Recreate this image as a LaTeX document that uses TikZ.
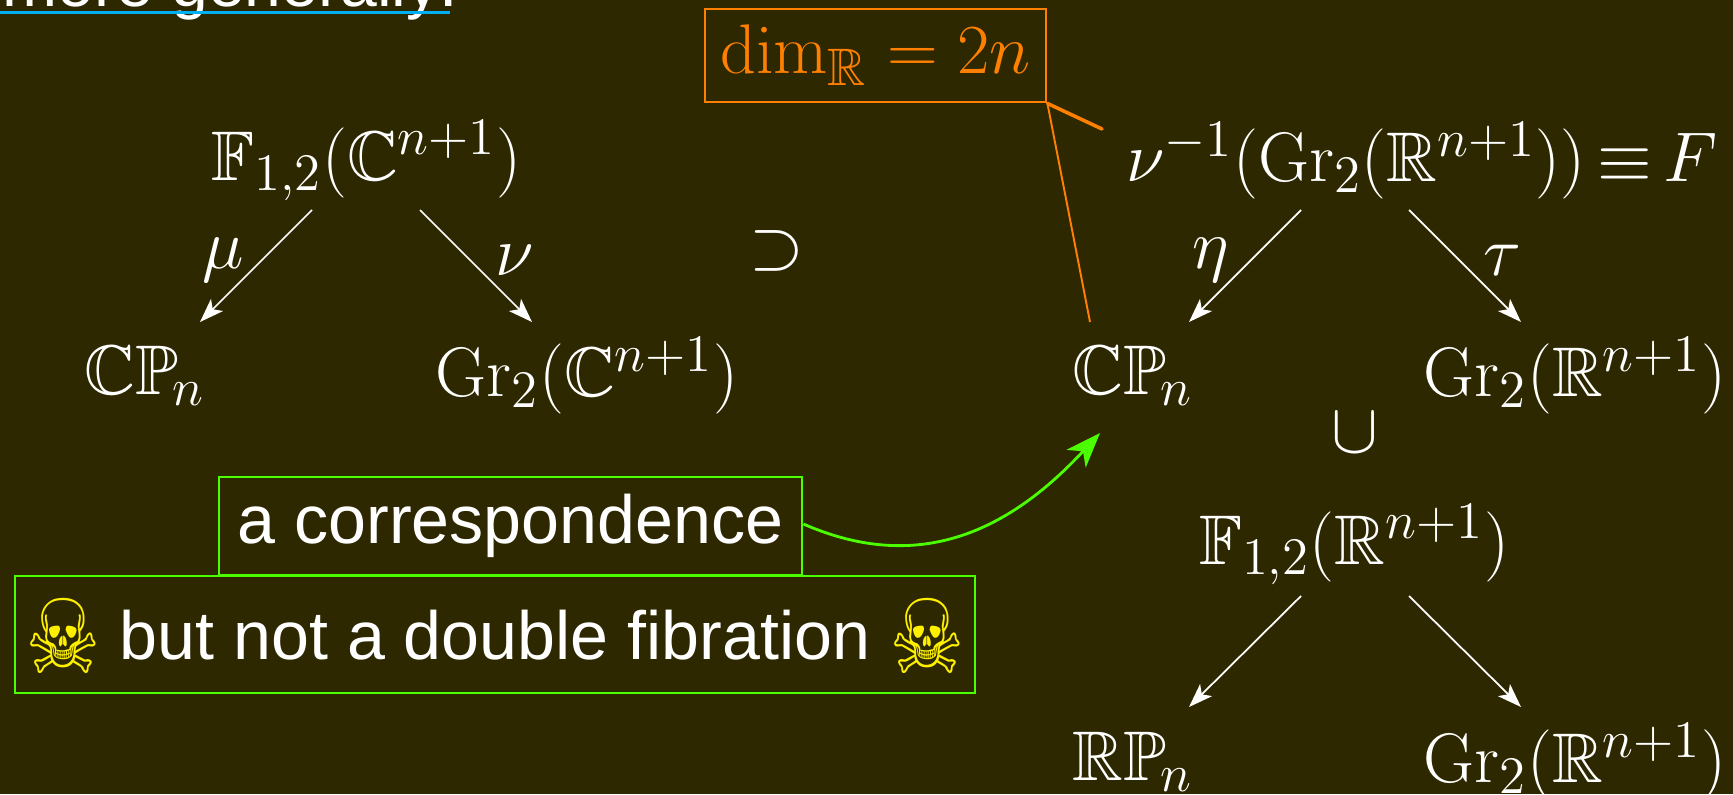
\documentclass[tikz,border=0pt]{standalone}
\usepackage{fix-cm}
\usepackage{amsmath,amssymb}
\usepackage[no-math]{fontspec}
\newfontfamily\arialfont{Liberation Sans}
\newfontfamily\skullfont{DejaVu Sans}
\usetikzlibrary{arrows.meta, calc}
\definecolor{fondo}{HTML}{2D2800}
\definecolor{verde}{HTML}{4CFF00}
\definecolor{arancio}{HTML}{FF8000}
\definecolor{ciano}{HTML}{00B0F0}
\definecolor{giallo}{HTML}{FFF000}
\DeclareMathSizes{20}{20}{15}{11}
\newcommand{\teschio}{\raisebox{-4pt}{\scalebox{1}[1.22]{\skullfont\color{giallo}\fontsize{24}{24}\selectfont\char"2620}}}
\tikzset{
	>={Stealth[length=2.4mm, width=1.7mm, inset=0.6mm]},
	% formula del diagramma
	formula/.style={text=white, inner sep=0pt, font=\fontsize{20}{24}\selectfont},
	% freccia bianca
	mappa/.style={->, white, line width=0.5pt},
	% riquadro verde
	avviso/.style={draw=verde, line width=0.8pt, inner sep=0pt, text=white,
	               font=\arialfont\fontsize{19.4}{24}\selectfont},
	% riquadro arancione
	nota/.style={draw=arancio, line width=0.8pt, inner sep=0pt, text=arancio,
	             font=\fontsize{20}{24}\selectfont},
}
\begin{document}
\begin{tikzpicture}
    \fill[fondo] (0,0) rectangle (17.33,-7.94);
    \useasboundingbox (0,0) rectangle (17.33,-7.94);

    % titolo tagliato
    \node[text=white, inner sep=0pt, anchor=base west, font=\arialfont\fontsize{18.8}{24}\selectfont] (titolo) at (0.02,-0.07) {more generally:};
    \coordinate (titoloS) at (0,-0.125);
    \coordinate (titoloE) at (4.50,-0.125);
    \draw[ciano, line width=1.1pt] (titoloS) -- (titoloE);

    % diagramma complesso
    \node[formula] (flagC) at (3.665,-1.61) {$\mathbb{F}_{1,2}(\mathbb{C}^{n+1})$};
    \node[formula] (cpC) at (1.45,-3.76) {$\mathbb{CP}_{\mspace{-2mu}n}$};
    \node[formula] (grC) at (5.87,-3.76) {$\mathrm{Gr}_2(\mathbb{C}^{n+1})$};
    \draw[mappa] ($(flagC.center)+(-0.545,-0.49)$) -- ($(cpC.center)+(0.55,0.54)$);
    \draw[mappa] ($(flagC.center)+(0.535,-0.49)$) -- ($(grC.center)+(-0.55,0.54)$);
    \node[formula] (mu) at (2.23,-2.60) {$\mu$};
    \node[formula] (nu) at (5.15,-2.60) {$\nu$};

    \node[formula] (supset) at (7.77,-2.51) {$\supset$};

    % diagramma con F
    \node[formula] (flagF) at (14.22,-1.61) {$\nu^{-1}(\mathrm{Gr}_2(\mathbb{R}^{n+1}))\mspace{-2mu}\equiv\mspace{-2mu} F$};
    \node[formula] (cpF) at (11.33,-3.76) {$\mathbb{CP}_{\mspace{-2mu}n}$};
    \node[formula] (grF) at (15.75,-3.76) {$\mathrm{Gr}_2(\mathbb{R}^{n+1})$};
    \draw[mappa] ($(flagF.center)+(-1.21,-0.49)$) -- ($(cpF.center)+(0.56,0.54)$);
    \draw[mappa] ($(flagF.center)+(-0.13,-0.49)$) -- ($(grF.center)+(-0.54,0.54)$);
    \node[formula] (eta) at (12.11,-2.60) {$\eta$};
    \node[formula] (tau) at (15.02,-2.60) {$\tau$};

    \node[formula] (inclus) at (13.55,-4.33) {$\cup$};

    % diagramma reale
    \node[formula] (flagR) at (13.54,-5.45) {$\mathbb{F}_{1,2}(\mathbb{R}^{n+1})$};
    \node[formula] (rp) at (11.33,-7.62) {$\mathbb{RP}_{\mspace{-2mu}n}$};
    \node[formula] (grR) at (15.75,-7.62) {$\mathrm{Gr}_2(\mathbb{R}^{n+1})$};
    \draw[mappa] ($(flagR.center)+(-0.53,-0.51)$) -- ($(rp.center)+(0.56,0.55)$);
    \draw[mappa] ($(flagR.center)+(0.55,-0.51)$) -- ($(grR.center)+(-0.54,0.55)$);

    % riquadri
    \node[avviso, minimum width=5.83cm, minimum height=0.98cm] (corr) at (5.105,-5.26) {a correspondence};
    \node[avviso, minimum width=9.60cm, minimum height=1.17cm, text height=14pt, text depth=0pt] (nofib) at (4.95,-6.345) {\teschio\ but not a double fibration \teschio};
    \node[nota, minimum width=3.41cm, minimum height=0.93cm] (dim) at (8.755,-0.555) {$\dim_{\mathbb{R}}=2n$};

    \draw[arancio, line width=1pt, line cap=round] (dim.south east) -- ($(flagF.center)+(-3.20,0.32)$);
    \draw[arancio, line width=0.55pt] (dim.south east) -- ($(cpF.center)+(-0.43,0.54)$);
    \draw[verde, line width=0.8pt, -{Stealth[length=3.5mm, width=2.6mm, inset=1mm]}] ([yshift=0.02cm]corr.east) .. controls (9.2,-5.75) and (10.1,-5.3) .. ($(cpF.center)+(-0.33,-0.57)$);
\end{tikzpicture}
\end{document}
